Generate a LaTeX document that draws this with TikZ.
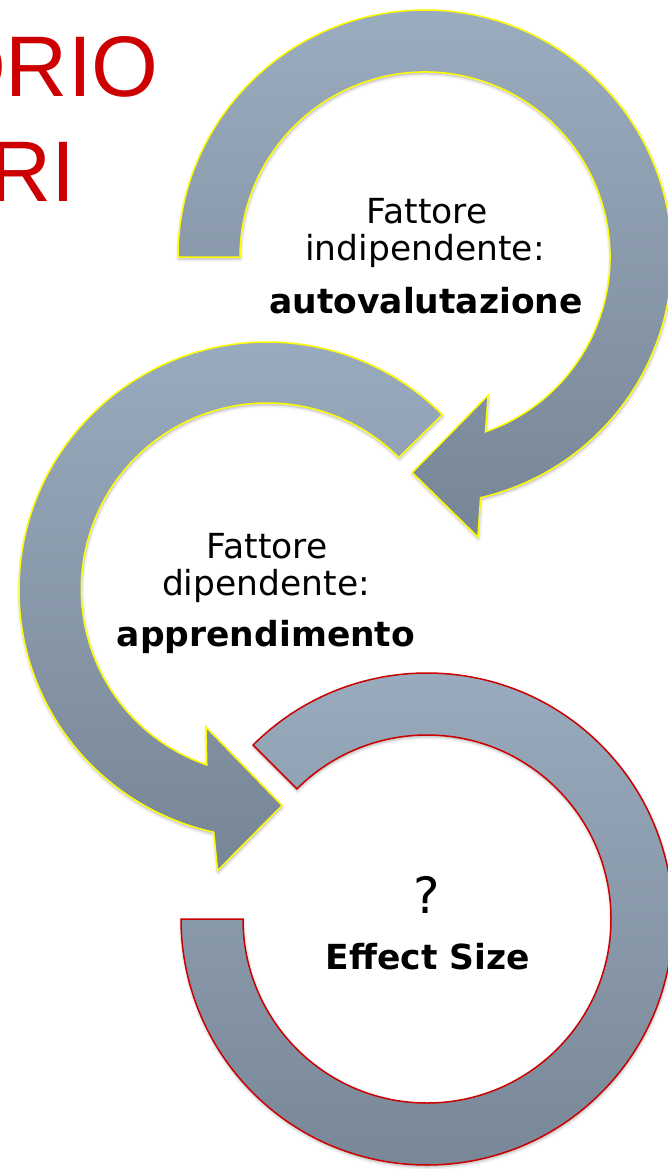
\documentclass[tikz,border=0pt]{standalone}
\usepackage{fontspec}
\setmainfont{DejaVu Sans}
\newfontfamily\titlefont{Liberation Sans}
\usetikzlibrary{shadows.blur}
\definecolor{ringlight}{RGB}{154,172,191}
\definecolor{ringdark}{RGB}{119,134,150}
\definecolor{titlered}{RGB}{204,0,0}
\definecolor{ringyellow}{RGB}{255,255,0}
\definecolor{ringred}{RGB}{204,0,0}
\tikzset{
  ring/.style={top color=ringlight, bottom color=ringdark, line width=1.5pt, line join=miter,
    blur shadow={shadow xshift=0.5pt, shadow yshift=-2pt, shadow blur radius=3pt, shadow opacity=30}},
  lbl/.style={anchor=base, inner sep=0pt, font=\fontsize{34.5}{40}\selectfont},
  lblb/.style={anchor=base, inner sep=0pt, font=\fontsize{34.5}{40}\selectfont\bfseries},
  titletext/.style={anchor=base east, inner sep=0pt, text=titlered, font=\titlefont\fontsize{86}{100}\selectfont}
}
\begin{document}
\begin{tikzpicture}[x=1pt,y=1pt]
\useasboundingbox (0,0) rectangle (668,-1169);
\begin{scope}
\clip (0,0) rectangle (668,-1169);
% title fragments
\node[titletext] (title1) at (159,-97) {ORIO};
\node[titletext] (title2) at (76,-201) {RI};
% ring 1 (top)
\begin{scope}[shift={(425,-257)}]
\draw[ring, draw=ringyellow] (180:247) arc[start angle=180, end angle=-77, radius=247]
  -- (-79.3:285) -- (-93.4:216) -- (-65.5:152) -- (-70.9:185)
  arc[start angle=-70.9, end angle=180, radius=185] -- cycle;
\end{scope}
% ring 2 (middle)
\begin{scope}[shift={(267,-590)}]
\draw[ring, draw=ringyellow] (45:248) arc[start angle=45, end angle=257.6, radius=248]
  -- (260:285) -- (274:216) -- (246:150) -- (251:185)
  arc[start angle=251, end angle=45, radius=186] -- cycle;
\end{scope}
% ring 3 (bottom)
\begin{scope}[shift={(427,-919)}]
\draw[ring, draw=ringred] (135:246) arc[start angle=135, end angle=-180, radius=246]
  -- (180:184) arc[start angle=-180, end angle=135, radius=184] -- cycle;
\end{scope}
% labels
\node[lbl] (f1) at (427,-223) {Fattore};
\node[lbl] (i1) at (425,-260) {indipendente:};
\node[lblb] (a1) at (426,-313) {autovalutazione};
\node[lbl] (f2) at (267,-558) {Fattore};
\node[lbl] (d2) at (266,-595) {dipendente:};
\node[lblb] (a2) at (266,-646) {apprendimento};
\node[anchor=base, inner sep=0pt, font=\fontsize{50}{60}\selectfont] (q3) at (427,-913) {?};
\node[lblb] (e3) at (428,-969) {Effect Size};
\end{scope}
\end{tikzpicture}
\end{document}
